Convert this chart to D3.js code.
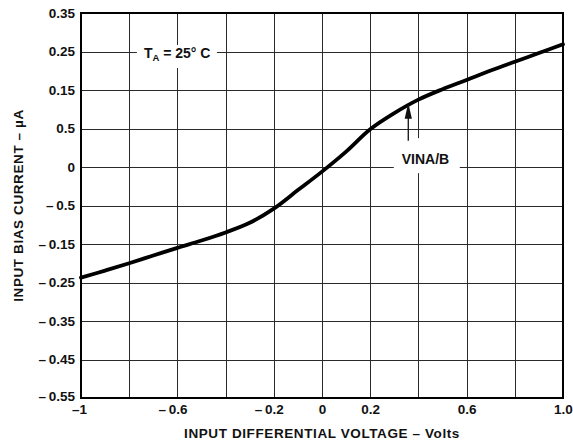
<!DOCTYPE html>
<html>
<head>
<meta charset="utf-8">
<script src="https://cdn.jsdelivr.net/npm/d3@7"></script>
<style>
  html, body { margin: 0; padding: 0; background: #fff; }
  svg { display: block; font-family: "Liberation Sans", Arial, Helvetica, sans-serif; font-weight: bold; }
</style>
</head>
<body>
<svg id="chart" width="573" height="446"></svg>
<script>
// ---- data ----
const xTickValues = [-1, -0.8, -0.6, -0.4, -0.2, 0, 0.2, 0.4, 0.6, 0.8, 1.0];
const xTickLabels = ["\u20131", "", "\u2013\u20090.6", "", "\u2013\u20090.2", "0", "0.2", "", "0.6", "", "1.0"];
const yTickValues = [0.35, 0.25, 0.15, 0.05, 0, -0.05, -0.15, -0.25, -0.35, -0.45, -0.55];
const yTickLabels = ["0.35", "0.25", "0.15", "0.5", "0", "\u2013\u20090.5", "\u2013\u20090.15", "\u2013\u20090.25", "\u2013\u20090.35", "\u2013\u20090.45", "\u2013\u20090.55"];
const voltage = [-1, -0.9, -0.8, -0.7, -0.6, -0.5, -0.4, -0.3, -0.2, -0.1, 0, 0.1, 0.2, 0.3, 0.4, 0.5, 0.6, 0.7, 0.8, 0.9, 1.0];
const biasCurrent = [-0.2375, -0.219, -0.200, -0.180, -0.160, -0.141, -0.120, -0.095, -0.058, -0.030, -0.006, 0.020, 0.049, 0.090, 0.125, 0.152, 0.176, 0.2006, 0.2235, 0.246, 0.2687];
const xTitle = "INPUT DIFFERENTIAL VOLTAGE \u2013 Volts";
const yTitle = "INPUT BIAS CURRENT \u2013 \u00b5A";
const curveLabel = "VINA/B";

// ---- layout ----
const margin = { left: 81, top: 13, right: 10, bottom: 48 };
const W = 573, H = 446;
const plotW = W - margin.left - margin.right;   // 482
const plotH = H - margin.top - margin.bottom;   // 385

const svg = d3.select("#chart");
const g = svg.append("g").attr("transform", `translate(${margin.left},${margin.top})`);

const x = d3.scaleLinear().domain([-1, 1]).range([0, plotW]);
// grid rows are evenly spaced; the 0.05 rows around zero are half-steps
const step = plotH / 10;
const y = d3.scaleLinear()
  .domain([-0.55, -0.05, 0.05, 0.35])
  .range([plotH, plotH - 5 * step, plotH - 7 * step, 0]);

const gridColor = "#2a2a2a";

// x axis + vertical grid
const xAxis = g.append("g")
  .attr("transform", `translate(0,${plotH})`)
  .call(d3.axisBottom(x).tickValues(xTickValues).tickSize(-plotH).tickPadding(6)
    .tickFormat((d, i) => xTickLabels[i]));
xAxis.select(".domain").remove();
xAxis.selectAll(".tick line").attr("stroke", gridColor).attr("stroke-width", 1).attr("shape-rendering", "crispEdges");
xAxis.selectAll(".tick text")
  .attr("font-size", 13.5).attr("font-weight", "bold").attr("fill", "#111")
  .attr("font-family", "Liberation Sans, Arial, sans-serif")
  .attr("dx", (d, i) => xTickLabels[i].startsWith("\u2013") ? (d === -1 ? -2 : -5) : 0);

// y axis + horizontal grid
const yAxis = g.append("g")
  .call(d3.axisLeft(y).tickValues(yTickValues).tickSize(-plotW).tickPadding(6)
    .tickFormat((d, i) => yTickLabels[i]));
yAxis.select(".domain").remove();
yAxis.selectAll(".tick line").attr("stroke", gridColor).attr("stroke-width", 1).attr("shape-rendering", "crispEdges");
yAxis.selectAll(".tick text")
  .attr("font-size", 13.5).attr("font-weight", "bold").attr("fill", "#111")
  .attr("font-family", "Liberation Sans, Arial, sans-serif")
  .attr("dy", (d) => d === -0.55 ? "0.2em" : "0.32em");

// annotation backgrounds (cut grid lines)
const taX = x(-0.739), taY = y(0.233);
g.append("rect").attr("x", taX - 7).attr("y", taY - 13).attr("width", 80).attr("height", 23).attr("fill", "#fff");
const lblX = x(0.331), lblY = y(0.0037);
g.append("rect").attr("x", lblX - 8).attr("y", lblY - 26).attr("width", 66).attr("height", 35).attr("fill", "#fff");

// frame
g.append("rect").attr("x", 0).attr("y", 0).attr("width", plotW).attr("height", plotH)
  .attr("fill", "none").attr("stroke", "#000").attr("stroke-width", 2);

// curve
const pts = voltage.map((v, i) => [v, biasCurrent[i]]);
g.append("path")
  .datum(pts)
  .attr("fill", "none").attr("stroke", "#000").attr("stroke-width", 3.8)
  .attr("stroke-linecap", "round").attr("stroke-linejoin", "round")
  .attr("d", d3.line().x(d => x(d[0])).y(d => y(d[1])).curve(d3.curveCatmullRom.alpha(0.5)));

// T_A = 25° C
const ta = g.append("text").attr("x", taX).attr("y", taY).attr("font-size", 14).attr("fill", "#111");
ta.append("tspan").text("T");
ta.append("tspan").attr("font-size", 9.5).attr("dy", 3).text("A");
ta.append("tspan").attr("dy", -3).text(" = 25\u00b0 C");

// arrow + curve label
const ax = x(0.358);
const tipY = y(0.1245) + 3;
g.append("line").attr("x1", ax).attr("x2", ax).attr("y1", tipY + 14).attr("y2", tipY + 38)
  .attr("stroke", "#111").attr("stroke-width", 1.3);
g.append("path")
  .attr("d", `M${ax},${tipY} L${ax - 3.6},${tipY + 16} L${ax + 3.6},${tipY + 16} Z`)
  .attr("fill", "#111");
g.append("text").attr("x", lblX).attr("y", lblY).attr("font-size", 14).attr("fill", "#111").text(curveLabel);

// axis titles
svg.append("text")
  .attr("x", margin.left + plotW / 2).attr("y", 438)
  .attr("text-anchor", "middle").attr("font-size", 13.5).attr("letter-spacing", 0.6).attr("fill", "#111")
  .text(xTitle);
svg.append("text")
  .attr("transform", `translate(23,${margin.top + plotH / 2}) rotate(-90)`)
  .attr("text-anchor", "middle").attr("font-size", 13.5).attr("letter-spacing", 0.6).attr("fill", "#111")
  .text(yTitle);
</script>
</body>
</html>
